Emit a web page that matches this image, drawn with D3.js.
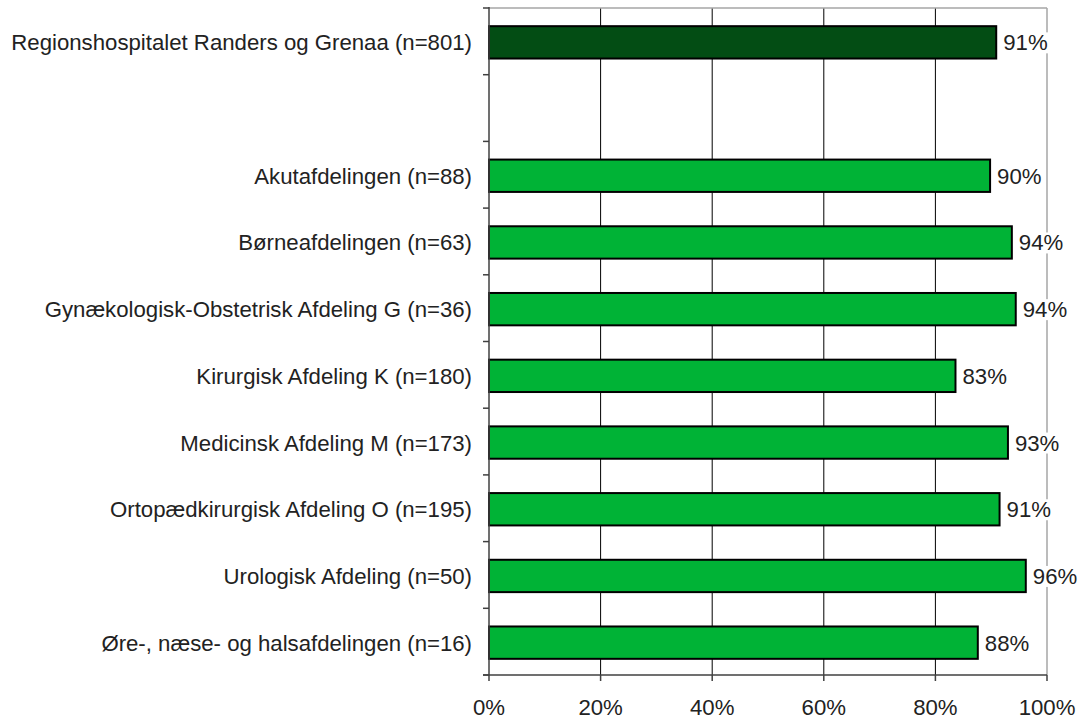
<!DOCTYPE html>
<html><head><meta charset="utf-8">
<script src="https://cdn.jsdelivr.net/npm/d3@7"></script>
<style>body{margin:0;background:#fff}</style>
</head><body>
<svg id="c" width="1080" height="722"></svg>
<script>
const categories = [
  "Regionshospitalet Randers og Grenaa (n=801)",
  "",
  "Akutafdelingen (n=88)",
  "Børneafdelingen (n=63)",
  "Gynækologisk-Obstetrisk Afdeling G (n=36)",
  "Kirurgisk Afdeling K (n=180)",
  "Medicinsk Afdeling M (n=173)",
  "Ortopædkirurgisk Afdeling O (n=195)",
  "Urologisk Afdeling (n=50)",
  "Øre-, næse- og halsafdelingen (n=16)"
];
const values = [90.9, null, 89.8, 93.7, 94.4, 83.6, 93.0, 91.5, 96.2, 87.6];
const valueLabels = ["91%", "", "90%", "94%", "94%", "83%", "93%", "91%", "96%", "88%"];
const xTicks = [0, 20, 40, 60, 80, 100];
const totalIndex = 0;

const svg = d3.select("#c");
const L = 489, R = 1047, T = 8, B = 675;
const font = "Liberation Sans, Arial, sans-serif";
const fs = 22.2;
const x = d3.scaleLinear().domain([0, 100]).range([L, R]);
const y = d3.scaleBand().domain(d3.range(categories.length)).range([T, B])
  .paddingInner(0.515).paddingOuter(0.2575);

// gridlines
svg.append("g").selectAll("line").data(xTicks.filter(d => d > 0 && d < 100)).join("line")
  .attr("x1", d => x(d)).attr("x2", d => x(d)).attr("y1", T).attr("y2", B)
  .attr("stroke", "#000").attr("stroke-width", 1);

// top & right border
svg.append("line").attr("x1", L).attr("x2", R).attr("y1", T).attr("y2", T)
  .attr("stroke", "#a6a6a6").attr("stroke-width", 1.5);
svg.append("line").attr("x1", R).attr("x2", R).attr("y1", T).attr("y2", B)
  .attr("stroke", "#a6a6a6").attr("stroke-width", 1.5);

// bars
const idx = d3.range(categories.length).filter(i => values[i] != null);
svg.append("g").selectAll("rect").data(idx).join("rect")
  .attr("x", x(0)).attr("y", i => y(i) + 1)
  .attr("width", i => x(values[i]) - x(0)).attr("height", y.bandwidth())
  .attr("fill", i => i === totalIndex ? "#034d14" : "#00b336")
  .attr("stroke", "#000").attr("stroke-width", 2);

// value labels with white background
const vl = svg.append("g").selectAll("g").data(idx).join("g")
  .attr("transform", i => `translate(${x(values[i]) + 7},${y(i) + 1 + y.bandwidth() / 2})`);
vl.append("rect").attr("class", "bg").attr("fill", "#fff");
vl.append("text").text(i => valueLabels[i])
  .attr("font-family", font).attr("font-size", fs).attr("fill", "#222")
  .attr("dy", "0.36em");
vl.each(function() {
  const t = d3.select(this).select("text").node().getBBox();
  d3.select(this).select("rect").attr("x", t.x - 1).attr("y", t.y + 2)
    .attr("width", t.width + 2).attr("height", t.height - 4);
});

// left axis
const bands = d3.range(categories.length + 1).map(i => T + i * y.step());
svg.append("line").attr("x1", L).attr("x2", L).attr("y1", T - 1).attr("y2", B)
  .attr("stroke", "#404040").attr("stroke-width", 1.5);
svg.append("g").selectAll("line").data(bands).join("line")
  .attr("x1", L - 6).attr("x2", L).attr("y1", d => d).attr("y2", d => d)
  .attr("stroke", "#404040").attr("stroke-width", 1.5);

// category labels
svg.append("g").selectAll("text").data(d3.range(categories.length)).join("text")
  .attr("x", 472).attr("y", i => y(i) + 1 + y.bandwidth() / 2).attr("dy", "0.36em")
  .attr("text-anchor", "end").attr("font-family", font).attr("font-size", fs)
  .attr("fill", "#222").text(i => categories[i]);

// bottom axis
svg.append("line").attr("x1", L - 6).attr("x2", R).attr("y1", B).attr("y2", B)
  .attr("stroke", "#404040").attr("stroke-width", 1.5);
svg.append("g").selectAll("line").data(xTicks).join("line")
  .attr("x1", d => x(d)).attr("x2", d => x(d)).attr("y1", B).attr("y2", B + 6)
  .attr("stroke", "#404040").attr("stroke-width", 1.5);
svg.append("g").selectAll("text").data(xTicks).join("text")
  .attr("x", d => x(d)).attr("y", 715).attr("text-anchor", "middle")
  .attr("font-family", font).attr("font-size", fs).attr("fill", "#222")
  .text(d => d + "%");
</script>
</body></html>
